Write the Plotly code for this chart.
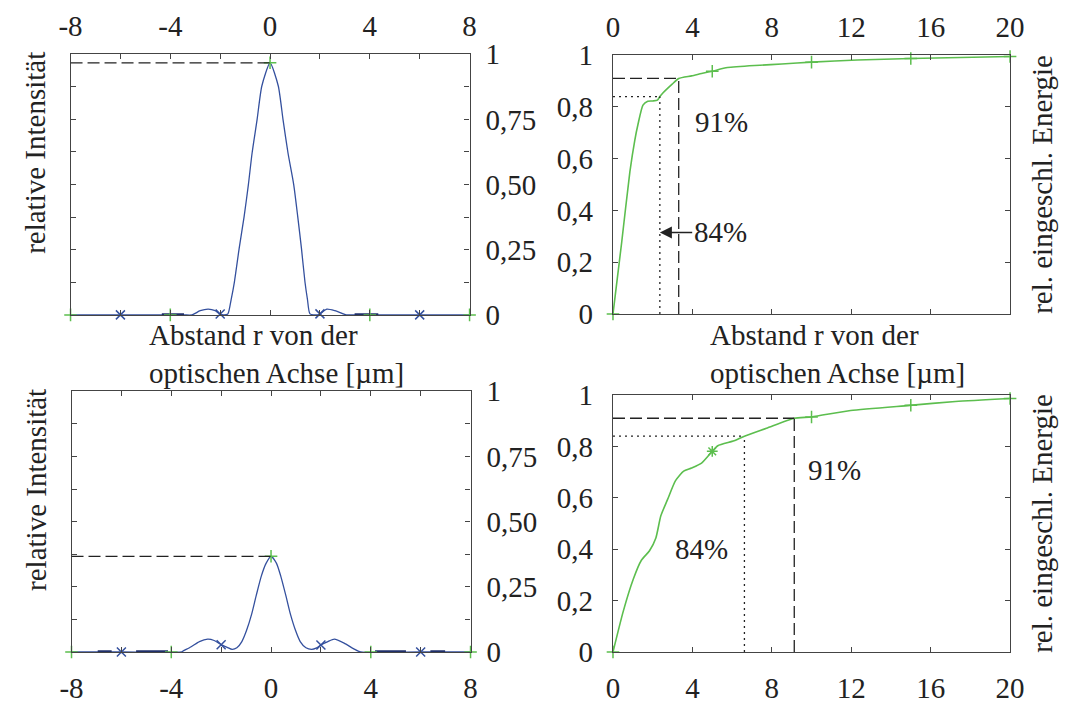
import numpy as np
import plotly.graph_objects as go

# ---------------- data ----------------
# point spread function, upper panel (r in µm, relative intensity)
psf1_r = [-8, -6, -4.35, -3.45, -3.13, -2.8, -2.48, -2.2, -2.02, -1.85, -1.69, -1.56, -1.43, -1.24,
          -1.04, -0.87, -0.72, -0.52, -0.33, 0, 0.33, 0.52, 0.72, 0.95, 1.11, 1.26, 1.40, 1.50,
          1.60, 1.9, 2.0, 2.28, 2.6, 3.06, 3.39, 4.34, 6, 8]
psf1_i = [0, 0, 0, 0, 0, 0.016, 0.022, 0.016, 0.004, 0, 0.004, 0.059, 0.126, 0.254,
          0.377, 0.499, 0.621, 0.749, 0.878, 0.967, 0.878, 0.749, 0.621, 0.499, 0.377, 0.254, 0.126, 0.059,
          0.004, 0, 0.004, 0.022, 0.016, 0, 0, 0, 0, 0]

# point spread function, lower panel
psf2_r = [-8, -6, -3.59, -3.52, -3.2, -2.87, -2.54, -2.28, -2.0, -1.76, -1.56, -1.37, -1.17, -0.98,
          -0.78, -0.59, -0.39, -0.2, 0, 0.22, 0.39, 0.59, 0.78, 0.98, 1.17, 1.4, 1.63, 1.83,
          2.02, 2.28, 2.54, 2.93, 3.32, 3.59, 6, 8]
psf2_i = [0, 0, 0, 0.004, 0.02, 0.04, 0.049, 0.044, 0.028, 0.018, 0.01, 0.016, 0.04, 0.083,
          0.144, 0.218, 0.291, 0.34, 0.367, 0.34, 0.291, 0.218, 0.144, 0.083, 0.04, 0.016, 0.01, 0.016,
          0.028, 0.04, 0.049, 0.034, 0.012, 0, 0, 0]

# faint outer rings (drawn as heavy strokes on the baseline)
rings1 = [(-4.34, -3.45), (3.39, 4.34)]
rings2 = [(-6.95, -6.39), (-5.41, -4.13), (4.17, 5.41), (6.39, 6.98)]

# encircled energy, upper panel
ee1_r = [0, 0.44, 0.85, 1.10, 1.26, 1.51, 1.75, 2.0, 2.24, 2.36, 2.49, 2.98, 3.31, 3.96, 4.46,
         5.0, 5.77, 7.4, 8.5, 10.0, 12.3, 15.0, 17.5, 20.0]
ee1_e = [0, 0.278, 0.549, 0.672, 0.733, 0.807, 0.822, 0.823, 0.826, 0.84, 0.852, 0.888, 0.91, 0.92, 0.929,
         0.938, 0.952, 0.961, 0.966, 0.973, 0.981, 0.987, 0.991, 0.995]

# encircled energy, lower panel
ee2_r = [0, 0.52, 1.02, 1.43, 1.84, 2.16, 2.41, 2.74, 3.15, 3.56, 3.96, 4.46, 5.0, 5.28, 6.1,
         6.62, 7.73, 9.13, 10.0, 11.97, 14.95, 17.25, 20.0]
ee2_e = [0, 0.159, 0.283, 0.357, 0.394, 0.444, 0.53, 0.592, 0.667, 0.704, 0.716, 0.735, 0.781, 0.803, 0.822,
         0.84, 0.871, 0.91, 0.915, 0.94, 0.96, 0.975, 0.987]

# radii containing 84 % and 91 % of the energy
ee1_r84, ee1_r91 = 2.36, 3.31
ee2_r84, ee2_r91 = 6.62, 9.13
level84, level91 = 0.84, 0.91

# marker positions
psf_plus_r = [-8, -4, 0, 4, 8]
psf_x_r = [-6, -2, 2, 6]
ee_plus_r = [0, 5, 10, 15, 20]

psf_ticks = [-8, -6, -4, -2, 0, 2, 4, 6, 8]
psf_ticktext = ["-8", "", "-4", "", "0", "", "4", "", "8"]
int_ticks = [0, 0.125, 0.25, 0.375, 0.5, 0.625, 0.75, 0.875, 1]
int_ticktext = ["0", "", "0,25", "", "0,50", "", "0,75", "", "1"]
ee_xticks = [0, 4, 8, 12, 16, 20]
ee_xticktext = ["0", "4", "8", "12", "16", "20"]
ee_yticks = [0, 0.2, 0.4, 0.6, 0.8, 1]
ee_yticktext = ["0", "0,2", "0,4", "0,6", "0,8", "1"]

# ---------------- style ----------------
W, H = 1067, 710
FONT = "'Liberation Serif', 'Times New Roman', Times, 'DejaVu Serif', serif"
FS = 29
BLUE = "#34509e"
NAVY = "#1f2f6a"
GREEN = "#5cbe4e"
DARK = "#222222"
FRAME = "#444444"
DASH = "12px,5px"
DOT = "2px,4px"


def px_dom(a, b, total):
    return [a / total, b / total]


def py_dom(top, bottom):
    return [1 - bottom / H, 1 - top / H]


# panel boxes in pixels: (left, right, top, bottom)
boxes = {
    "tl": (60, 469, 40, 313),
    "tr": (616, 1023, 41, 312),
    "bl": (61, 470, 393, 666),
    "br": (616, 1023, 397, 666),
}

fig = go.Figure()


def add_psf(r, i, rings, xa, ya):
    fig.add_trace(go.Scatter(x=r, y=i, mode="lines",
                             line=dict(color=BLUE, width=1.3, shape="spline", smoothing=0.6),
                             xaxis=xa, yaxis=ya, showlegend=False))
    for a, b in rings:
        fig.add_trace(go.Scatter(x=[a, b], y=[0, 0], mode="lines", line=dict(color=NAVY, width=3.5),
                                 xaxis=xa, yaxis=ya, showlegend=False, cliponaxis=False))
    fig.add_trace(go.Scatter(x=psf_x_r, y=np.interp(psf_x_r, r, i), mode="markers",
                             marker=dict(symbol="x-thin", size=9, line=dict(color=BLUE, width=1.5)),
                             xaxis=xa, yaxis=ya, showlegend=False, cliponaxis=False))
    fig.add_trace(go.Scatter(x=psf_plus_r, y=np.interp(psf_plus_r, r, i), mode="markers",
                             marker=dict(symbol="cross-thin", size=9, line=dict(color=GREEN, width=1.5)),
                             xaxis=xa, yaxis=ya, showlegend=False, cliponaxis=False))
    peak = max(i)
    fig.add_shape(type="line", x0=-8, x1=r[int(np.argmax(i))], y0=peak, y1=peak,
                  xref=xa, yref=ya, line=dict(color=DARK, width=1.3, dash=DASH))


def add_ee(r, e, xa, ya, r84, r91, star_at=None):
    fig.add_trace(go.Scatter(x=r, y=e, mode="lines",
                             line=dict(color=GREEN, width=1.6, shape="spline", smoothing=0.6),
                             xaxis=xa, yaxis=ya, showlegend=False))
    for m in ee_plus_r:
        sym = "asterisk" if m == star_at else "cross-thin"
        fig.add_trace(go.Scatter(x=[m], y=[np.interp(m, r, e)], mode="markers",
                                 marker=dict(symbol=sym, size=9, line=dict(color=GREEN, width=1.5)),
                                 xaxis=xa, yaxis=ya, showlegend=False, cliponaxis=False))
    fig.add_shape(type="line", x0=0, x1=r91, y0=level91, y1=level91, xref=xa, yref=ya,
                  line=dict(color=DARK, width=1.3, dash=DASH))
    fig.add_shape(type="line", x0=r91, x1=r91, y0=0, y1=level91, xref=xa, yref=ya,
                  line=dict(color=DARK, width=1.3, dash=DASH))
    fig.add_shape(type="line", x0=0, x1=r84, y0=level84, y1=level84, xref=xa, yref=ya,
                  line=dict(color=DARK, width=1.3, dash=DOT))
    fig.add_shape(type="line", x0=r84, x1=r84, y0=0, y1=level84, xref=xa, yref=ya,
                  line=dict(color=DARK, width=1.3, dash=DOT))


add_psf(psf1_r, psf1_i, rings1, "x", "y")
add_ee(ee1_r, ee1_e, "x2", "y2", ee1_r84, ee1_r91)
add_psf(psf2_r, psf2_i, rings2, "x3", "y3")
add_ee(ee2_r, ee2_e, "x4", "y4", ee2_r84, ee2_r91, star_at=5)

common = dict(showline=True, linecolor=FRAME, linewidth=1.2, mirror="ticks", ticks="inside",
              ticklen=5, tickcolor=FRAME, showgrid=False, zeroline=False,
              tickfont=dict(family=FONT, size=FS, color=DARK))

layout = dict(width=W, height=H, margin=dict(l=0, r=0, t=0, b=0),
              paper_bgcolor="white", plot_bgcolor="white",
              font=dict(family=FONT, size=FS, color=DARK))

l, r_, t, b = boxes["tl"]
layout["xaxis"] = dict(common, domain=px_dom(l, r_, W), range=[-8, 8], side="top", anchor="y",
                       tickvals=psf_ticks, ticktext=psf_ticktext, ticklabelstandoff=5)
layout["yaxis"] = dict(common, domain=py_dom(t, b), range=[0, 1], side="right", anchor="x",
                       tickvals=int_ticks, ticktext=int_ticktext, ticklabelstandoff=9)
l, r_, t, b = boxes["tr"]
layout["xaxis2"] = dict(common, domain=px_dom(l, r_, W), range=[0, 20], side="top", anchor="y2",
                        tickvals=ee_xticks, ticktext=ee_xticktext, ticklabelstandoff=5)
layout["yaxis2"] = dict(common, domain=py_dom(t, b), range=[0, 1], side="left", anchor="x2",
                        tickvals=ee_yticks, ticktext=ee_yticktext, ticklabelstandoff=13)
l, r_, t, b = boxes["bl"]
layout["xaxis3"] = dict(common, domain=px_dom(l, r_, W), range=[-8, 8], side="bottom", anchor="y3",
                        tickvals=psf_ticks, ticktext=psf_ticktext, ticklabelstandoff=10)
layout["yaxis3"] = dict(common, domain=py_dom(t, b), range=[0, 1], side="right", anchor="x3",
                        tickvals=int_ticks, ticktext=int_ticktext, ticklabelstandoff=9)
l, r_, t, b = boxes["br"]
layout["xaxis4"] = dict(common, domain=px_dom(l, r_, W), range=[0, 20], side="bottom", anchor="y4",
                        tickvals=ee_xticks, ticktext=ee_xticktext, ticklabelstandoff=10)
layout["yaxis4"] = dict(common, domain=py_dom(t, b), range=[0, 1], side="left", anchor="x4",
                        tickvals=ee_yticks, ticktext=ee_yticktext, ticklabelstandoff=13)
fig.update_layout(**layout)

txt = dict(family=FONT, size=FS, color=DARK)
ann = []
# axis titles
for top in (boxes["tl"][2], boxes["bl"][2]):
    ann.append(dict(text="relative Intensität", xref="paper", yref="paper", x=24 / W, y=1 - (top - 5) / H,
                    xanchor="center", yanchor="top", textangle=-90, showarrow=False, font=txt))
for key in ("tr", "br"):
    _, _, top, bot = boxes[key]
    ann.append(dict(text="rel. eingeschl. Energie", xref="paper", yref="paper", x=1055 / W,
                    y=1 - (top + bot) / 2 / H, xanchor="center", yanchor="middle", textangle=-90,
                    showarrow=False, font=txt))
for left in (138, 713):
    ann.append(dict(text="Abstand r von der<br>optischen Achse [µm]", xref="paper", yref="paper",
                    x=left / W, y=1 - 315 / H, xanchor="left", yanchor="top", align="left",
                    showarrow=False, font=txt))
# percentage labels
ann.append(dict(text="91%", xref="x2", yref="y2", x=5.45, y=0.74, showarrow=False, font=txt))
ann.append(dict(text="84%", xref="x2", yref="y2", x=ee1_r84, y=0.315, ax=5.4, ay=0.315,
                axref="x2", ayref="y2", showarrow=True, arrowhead=2, arrowsize=1.6, arrowwidth=1.5,
                arrowcolor=DARK, font=txt))
ann.append(dict(text="91%", xref="x4", yref="y4", x=11.15, y=0.71, showarrow=False, font=txt))
ann.append(dict(text="84%", xref="x4", yref="y4", x=4.47, y=0.40, showarrow=False, font=txt))
fig.update_layout(annotations=ann)

fig.write_html("out.html")
